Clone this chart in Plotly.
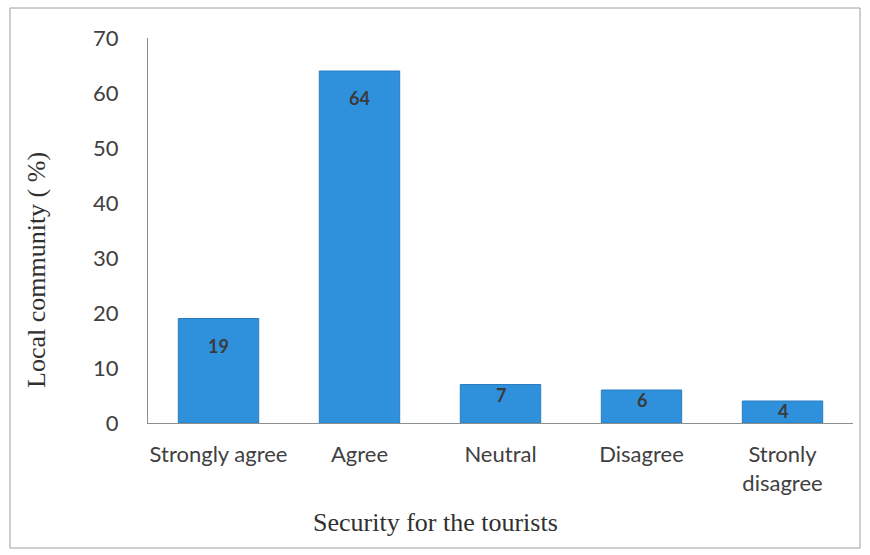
import plotly.graph_objects as go

categories = ["Strongly agree", "Agree", "Neutral", "Disagree", "Stronly<br>disagree"]
values = [19, 64, 7, 6, 4]
y_ticks = [0, 10, 20, 30, 40, 50, 60, 70]

SANS = "Lato, Open Sans, sans-serif"
SERIF = "Liberation Serif, Times New Roman, serif"

fig = go.Figure()
fig.add_trace(go.Bar(
    x=categories, y=values,
    marker=dict(color="#2f91dc", line=dict(color="#2a7cc0", width=1)),
    showlegend=False,
    hoverinfo="x+y",
))

# value labels placed relative to each bar's top ("inside end" style)
annotations = []
for c, v in zip(categories, values):
    annotations.append(dict(
        x=c, y=v, xref="x", yref="y", text=f"<b>{v}</b>", showarrow=False,
        yanchor="middle", yshift=-27 if v >= 15 else -10,
        font=dict(family=SANS, size=18, color="#3a3a3a"),
    ))

L, T, R, B = 148, 38, 853, 423
PW, PH = R - L, B - T

annotations.append(dict(text="Local community ( %)", xref="paper", yref="paper",
                        x=-(L - 36) / PW, y=(B - 270) / PH, textangle=-90,
                        showarrow=False, xanchor="center", yanchor="middle",
                        font=dict(family=SERIF, size=26, color="#303030")))
annotations.append(dict(text="Security for the tourists", xref="paper", yref="paper",
                        x=(435 - L) / PW, y=-(522 - B) / PH,
                        showarrow=False, xanchor="center", yanchor="middle",
                        font=dict(family=SERIF, size=26, color="#303030")))

fig.update_layout(
    width=870, height=555,
    margin=dict(l=L, r=870 - R, t=T, b=555 - B, autoexpand=False),
    paper_bgcolor="white", plot_bgcolor="white",
    bargap=0.43,
    font=dict(family=SANS, color="#404040"),
    xaxis=dict(
        showline=True, linecolor="#8a9090", linewidth=1,
        tickfont=dict(size=22, color="#404040"),
        ticks="", ticklabelstandoff=12,
    ),
    yaxis=dict(
        range=[0, 70], tickvals=y_ticks,
        showline=True, linecolor="#8a9090", linewidth=1,
        showgrid=False, zeroline=False,
        tickfont=dict(size=22, color="#404040"),
        ticks="", ticklabelstandoff=24,
    ),
    shapes=[dict(type="rect", xref="paper", yref="paper",
                 x0=-(L - 10) / PW, x1=(860 - L) / PW,
                 y0=-(548 - B) / PH, y1=1 + (T - 8) / PH,
                 line=dict(color="#9aa0a0", width=1))],
    annotations=annotations,
)

fig.write_html("out.html", config={"displayModeBar": False},
               post_script="document.body.style.margin='0';")
